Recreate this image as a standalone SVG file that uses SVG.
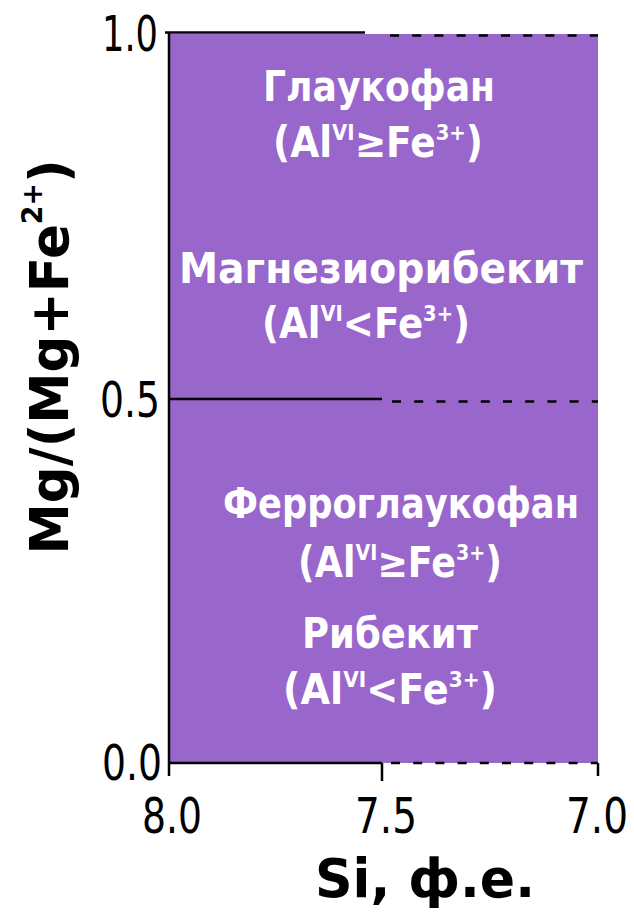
<svg xmlns="http://www.w3.org/2000/svg" width="634" height="920" viewBox="0 0 634 920">
  <style>
    .ax { stroke: #000; stroke-width: 2.5; fill: none; }
    .dash { stroke: #000; stroke-width: 2.5; fill: none; stroke-dasharray: 9 13.2; }
    .tick { font-family: "DejaVu Sans", "Liberation Sans", sans-serif; font-size: 49px; fill: #000; }
    .title { font-family: "DejaVu Sans", "Liberation Sans", sans-serif; font-weight: bold; font-size: 54px; fill: #000; }
    .lab { font-family: "DejaVu Sans", "Liberation Sans", sans-serif; font-weight: bold; font-size: 42px; fill: #fff; text-anchor: middle; }
    .sup { font-size: 22px; }
  </style>

  <!-- field -->
  <rect id="field" x="169" y="34" width="429" height="729" fill="#9966CC"/>

  <!-- boundary lines and axes -->
  <g id="connectors">
    <line class="ax" x1="165" y1="32.5" x2="365" y2="32.5"/>
    <line class="dash" x1="390" y1="35.5" x2="598" y2="35.5"/>
    <line class="ax" x1="169" y1="399" x2="382" y2="399"/>
    <line class="dash" x1="392" y1="401.5" x2="598" y2="401.5"/>
    <line class="ax" x1="169" y1="763" x2="382" y2="763"/>
    <line class="dash" x1="391" y1="763" x2="598" y2="763"/>
    <line class="ax" x1="169" y1="32" x2="169" y2="776"/>
    <line class="ax" x1="382" y1="763" x2="382" y2="781"/>
    <line class="ax" x1="598" y1="763" x2="598" y2="776"/>
  </g>

  <!-- tick labels -->
  <g id="yticks" class="tick">
    <text x="158" y="51" text-anchor="end" textLength="56" lengthAdjust="spacingAndGlyphs">1.0</text>
    <text x="160" y="417" text-anchor="end" textLength="60" lengthAdjust="spacingAndGlyphs">0.5</text>
    <text x="162" y="780" text-anchor="end" textLength="60" lengthAdjust="spacingAndGlyphs">0.0</text>
  </g>
  <g id="xticks" class="tick">
    <text x="172" y="833" text-anchor="middle" textLength="60" lengthAdjust="spacingAndGlyphs">8.0</text>
    <text x="386" y="833" text-anchor="middle" textLength="62" lengthAdjust="spacingAndGlyphs">7.5</text>
    <text x="597" y="833" text-anchor="middle" textLength="62" lengthAdjust="spacingAndGlyphs">7.0</text>
  </g>

  <!-- axis titles -->
  <g id="xtitle">
    <text class="title" x="425" y="897" text-anchor="middle" textLength="220" lengthAdjust="spacingAndGlyphs">Si, ф.е.</text>
  </g>
  <g id="ytitle">
    <text class="title" transform="translate(68,357) rotate(-90)" text-anchor="middle" textLength="395" lengthAdjust="spacingAndGlyphs">Mg/(Mg+Fe<tspan font-size="28" dy="-26">2+</tspan><tspan dy="26">)</tspan></text>
  </g>

  <!-- region labels -->
  <g id="glaucophane">
    <text class="lab" x="379" y="101" textLength="232" lengthAdjust="spacingAndGlyphs">Глаукофан</text>
    <text class="lab" x="378" y="157" textLength="210" lengthAdjust="spacingAndGlyphs">(Al<tspan class="sup" dy="-17">VI</tspan><tspan dy="17">≥Fe</tspan><tspan class="sup" dy="-17">3+</tspan><tspan dy="17">)</tspan></text>
  </g>
  <g id="magnesioriebeckite">
    <text class="lab" x="381" y="283" textLength="404" lengthAdjust="spacingAndGlyphs">Магнезиорибекит</text>
    <text class="lab" x="366" y="338" textLength="208" lengthAdjust="spacingAndGlyphs">(Al<tspan class="sup" dy="-17">VI</tspan><tspan dy="17">&lt;Fe</tspan><tspan class="sup" dy="-17">3+</tspan><tspan dy="17">)</tspan></text>
  </g>
  <g id="ferroglaucophane">
    <text class="lab" x="401" y="518" textLength="356" lengthAdjust="spacingAndGlyphs">Ферроглаукофан</text>
    <text class="lab" x="400" y="577" textLength="204" lengthAdjust="spacingAndGlyphs">(Al<tspan class="sup" dy="-17">VI</tspan><tspan dy="17">≥Fe</tspan><tspan class="sup" dy="-17">3+</tspan><tspan dy="17">)</tspan></text>
  </g>
  <g id="riebeckite">
    <text class="lab" x="390" y="648" textLength="176" lengthAdjust="spacingAndGlyphs">Рибекит</text>
    <text class="lab" x="390" y="704" textLength="214" lengthAdjust="spacingAndGlyphs">(Al<tspan class="sup" dy="-17">VI</tspan><tspan dy="17">&lt;Fe</tspan><tspan class="sup" dy="-17">3+</tspan><tspan dy="17">)</tspan></text>
  </g>
</svg>
